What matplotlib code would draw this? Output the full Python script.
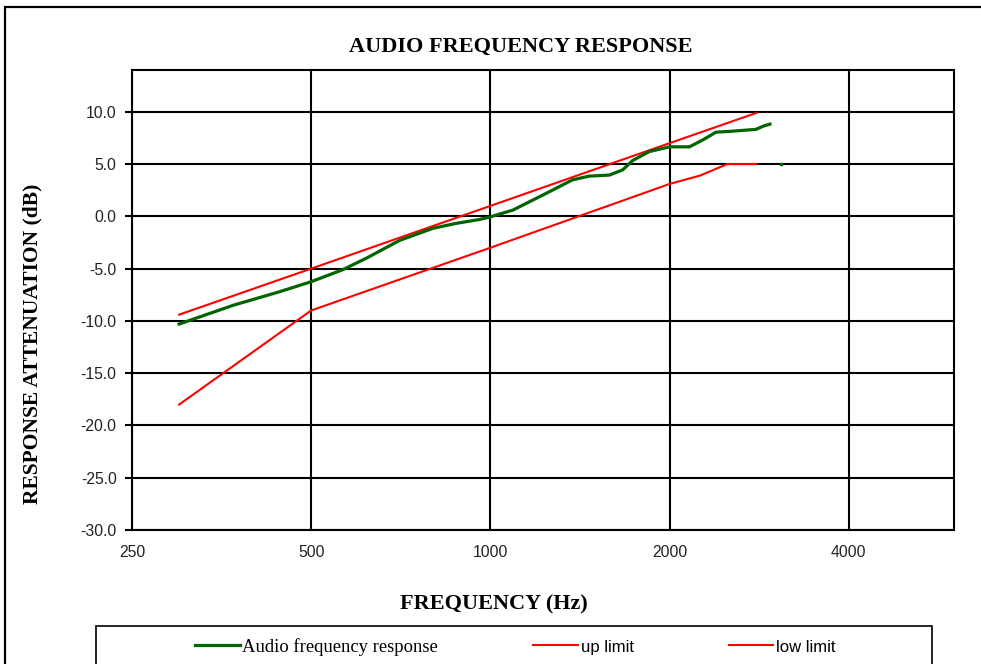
import matplotlib
matplotlib.use('Agg')
import matplotlib.pyplot as plt
from matplotlib.patches import Rectangle
from matplotlib.lines import Line2D

# Datos
freq_resp = [300, 370, 440, 500, 565, 619, 704, 800, 876, 959, 1000, 1091, 1241, 1375,
             1467, 1585, 1669, 1735, 1850, 2000, 2160, 2273, 2393, 2553, 2793, 2884, 2950]
db_resp = [-10.3, -8.5, -7.25, -6.25, -5.1, -4.0, -2.3, -1.15, -0.67, -0.3, -0.05, 0.6, 2.2, 3.5,
           3.85, 3.95, 4.45, 5.35, 6.2, 6.65, 6.65, 7.3, 8.05, 8.15, 8.32, 8.66, 8.82]

freq_up = [300, 500, 1000, 2000, 2800]
db_up = [-9.4, -5.0, 1.0, 7.0, 9.9]

freq_low = [300, 500, 1000, 2000, 2250, 2500, 2800]
db_low = [-18.0, -9.0, -3.0, 3.1, 3.9, 5.0, 5.0]

# punto suelto verde
freq_dot = [3075]
db_dot = [5.0]

xticks = [250, 500, 1000, 2000, 4000]
yticks = [-30, -25, -20, -15, -10, -5, 0, 5, 10]

verde = '#006400'
rojo = '#FF0000'

fig = plt.figure(figsize=(9.81, 6.64), dpi=100)
ax = fig.add_axes([132 / 981, 1 - 530 / 664, (953.5 - 132) / 981, (530 - 70) / 664])

ax.plot(freq_resp, db_resp, color=verde, lw=2.3, zorder=4)
ax.plot(freq_up, db_up, color=rojo, lw=1.5, zorder=3)
ax.plot(freq_low, db_low, color=rojo, lw=1.5, zorder=3)
ax.plot(freq_dot, db_dot, color=verde, marker='s', ms=1.5, lw=0, zorder=4)

ax.set_xscale('log', base=2)
ax.set_xlim(250, 6000)
ax.set_ylim(-30, 14)
ax.set_xticks(xticks)
ax.set_xticklabels([str(v) for v in xticks])
ax.xaxis.set_minor_locator(matplotlib.ticker.NullLocator())
ax.set_yticks(yticks)
ax.set_yticklabels(['%.1f' % v for v in yticks])

ax.grid(True, color='black', lw=1.5)
ax.set_axisbelow(True)
for s in ax.spines.values():
    s.set_color('black')
    s.set_linewidth(1.5)

ax.tick_params(axis='y', direction='out', length=5, width=1.5, pad=6)
ax.tick_params(axis='x', length=0, pad=11)
for lab in ax.get_xticklabels() + ax.get_yticklabels():
    lab.set_fontfamily('Liberation Sans')
    lab.set_fontsize(11.3)
    lab.set_color('#222222')

# Titulos
fig.text(521 / 981, 1 - 47 / 664, 'AUDIO FREQUENCY RESPONSE', ha='center', va='center',
         family='Liberation Serif', weight='bold', fontsize=16)
fig.text(494 / 981, 1 - 604 / 664, 'FREQUENCY (Hz)', ha='center', va='center',
         family='Liberation Serif', weight='bold', fontsize=16)
fig.text(32 / 981, 1 - 344 / 664, 'RESPONSE ATTENUATION (dB)', ha='center', va='center',
         rotation=90, family='Liberation Serif', weight='bold', fontsize=15.5)

# Marco exterior y caja de la leyenda
fig.patches.append(Rectangle((5 / 981, -0.2), 1.2, 1.2 - 7 / 664, transform=fig.transFigure,
                             fill=False, ec='black', lw=1.6, clip_on=False))
fig.patches.append(Rectangle((96 / 981, -0.1), (932 - 96) / 981, 0.1 + (1 - 626 / 664),
                             transform=fig.transFigure, fill=False, ec='black', lw=1.2,
                             clip_on=False))

handles = [Line2D([], [], color=verde, lw=2.3),
           Line2D([], [], color=rojo, lw=1.5),
           Line2D([], [], color=rojo, lw=1.5)]
leg = fig.legend(handles, ['Audio frequency response', 'up limit', 'low limit'],
                 ncol=3, loc='center left', bbox_to_anchor=(195 / 981, 1 - 647 / 664),
                 frameon=False, borderaxespad=0, borderpad=0, fontsize=13.4,
                 handlelength=2.4, handletextpad=0.15, columnspacing=5.1)
textos = leg.get_texts()
textos[0].set_fontfamily('Liberation Serif')
textos[1].set_fontfamily('Liberation Sans')
textos[2].set_fontfamily('Liberation Sans')
for t in textos[1:]:
    t.set_fontsize(12)

fig.savefig('out.png', dpi=100)
